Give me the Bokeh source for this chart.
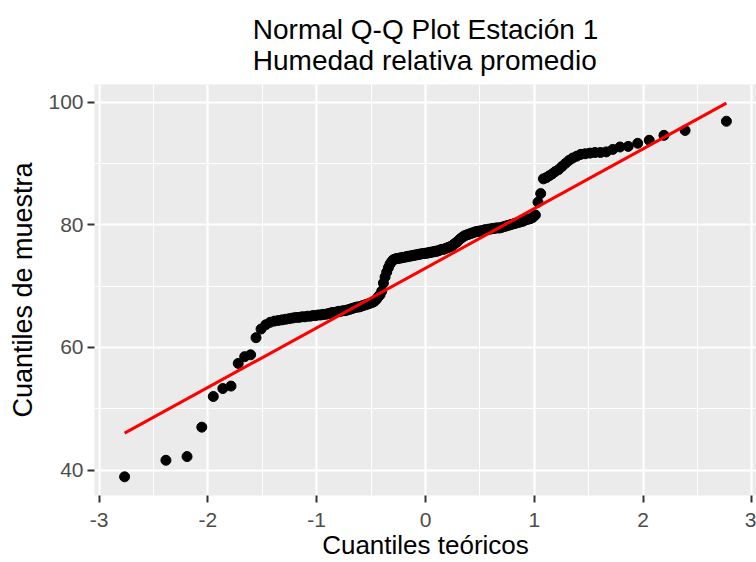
from statistics import NormalDist
import numpy as np
from bokeh.plotting import figure
from bokeh.models import Range1d, FixedTicker, Title, ColumnDataSource
from bokeh.embed import file_html
from bokeh.resources import INLINE

title_line1 = "Normal Q-Q Plot Estación 1"
title_line2 = "Humedad relativa promedio"
x_label = "Cuantiles teóricos"
y_label = "Cuantiles de muestra"
x_ticks = [-3, -2, -1, 0, 1, 2, 3]
x_tick_labels = ["-3", "-2", "-1", "0", "1", "2", "3"]
x_minor = [-2.5, -1.5, -0.5, 0.5, 1.5, 2.5]
y_ticks = [40, 60, 80, 100]
y_tick_labels = ["40", "60", "80", "100"]
y_minor = [50, 70, 90]

# sample values (humedad relativa promedio, %), sorted
humedad = [
    38.9, 41.6, 42.2, 47.0, 52.0, 53.3, 53.7, 57.4, 58.5, 58.8,
    61.6, 63.0, 63.7, 64.1, 64.3, 64.4, 64.5, 64.6, 64.7, 64.8,
    64.9, 64.9, 65.0, 65.0, 65.1, 65.1, 65.2, 65.2, 65.3, 65.3,
    65.4, 65.4, 65.5, 65.6, 65.7, 65.7, 65.8, 65.9, 65.9, 66.0,
    66.0, 66.1, 66.2, 66.3, 66.4, 66.5, 66.6, 66.6, 66.7, 66.8,
    66.9, 67.0, 67.1, 67.2, 67.3, 67.4, 67.6, 67.9, 68.3, 68.6,
    69.2, 70.5, 71.5, 72.3, 73.0, 73.6, 74.0, 74.3, 74.4, 74.5,
    74.5, 74.6, 74.6, 74.7, 74.7, 74.8, 74.8, 74.9, 74.9, 75.0,
    75.0, 75.1, 75.1, 75.2, 75.2, 75.3, 75.3, 75.3, 75.4, 75.4,
    75.5, 75.5, 75.6, 75.6, 75.7, 75.7, 75.8, 75.9, 76.0, 76.0,
    76.1, 76.2, 76.3, 76.4, 76.5, 76.7, 76.9, 77.1, 77.3, 77.6,
    77.8, 78.0, 78.2, 78.3, 78.4, 78.5, 78.6, 78.7, 78.8, 78.9,
    78.9, 79.0, 79.0, 79.1, 79.2, 79.2, 79.3, 79.3, 79.4, 79.4,
    79.5, 79.5, 79.5, 79.6, 79.7, 79.8, 79.9, 80.0, 80.1, 80.2,
    80.3, 80.4, 80.5, 80.6, 80.8, 80.9, 81.0, 81.2, 81.6, 83.7,
    85.1, 87.5, 87.7, 88.0, 88.3, 88.7, 89.0, 89.5, 90.0, 90.5,
    90.9, 91.2, 91.5, 91.6, 91.7, 91.8, 91.8, 91.9, 92.3, 92.7,
    92.8, 93.3, 93.8, 94.6, 95.4, 96.9,
]

# --- Q-Q statistics (as ggplot2 stat_qq / stat_qq_line) ---
nd = NormalDist()
muestra = sorted(humedad)
n = len(muestra)
teoricos = [nd.inv_cdf((i - 0.5) / n) for i in range(1, n + 1)]
y25, y75 = np.percentile(muestra, [25, 75])
x25, x75 = nd.inv_cdf(0.25), nd.inv_cdf(0.75)
slope = (y75 - y25) / (x75 - x25)
intercept = y25 - slope * x25
line_x = [min(teoricos), max(teoricos)]
line_y = [intercept + slope * x for x in line_x]


def expand(lo, hi, f=0.05):
    d = (hi - lo) * f
    return lo - d, hi + d


xlo, xhi = expand(min(teoricos), max(teoricos))
ylo, yhi = expand(min(min(muestra), min(line_y)), max(max(muestra), max(line_y)))

FONT = "Liberation Sans"
W, H = 756, 562
LEFT, TOP, BOTTOM = 94, 84, 67

p = figure(
    width=W, height=H, output_backend="svg", toolbar_location=None,
    x_range=Range1d(xlo, xhi), y_range=Range1d(ylo, yhi), title=None,
    min_border_left=LEFT, min_border_right=0, min_border_top=TOP,
    min_border_bottom=BOTTOM,
)
p.background_fill_color = "#EBEBEB"
p.border_fill_color = "white"
p.outline_line_color = None

xt = FixedTicker(ticks=x_ticks, minor_ticks=x_minor)
yt = FixedTicker(ticks=y_ticks, minor_ticks=y_minor)
p.xaxis.ticker = xt
p.yaxis.ticker = yt
p.xgrid.ticker = xt
p.ygrid.ticker = yt
for g in (p.xgrid, p.ygrid):
    g.grid_line_color = "white"
    g.grid_line_width = 2.2
    g.minor_grid_line_color = "white"
    g.minor_grid_line_width = 1.1

p.xaxis.major_label_overrides = dict(zip(x_ticks, x_tick_labels))
p.yaxis.major_label_overrides = dict(zip(y_ticks, y_tick_labels))
for ax in (p.xaxis, p.yaxis):
    ax.axis_line_color = None
    ax.minor_tick_line_color = None
    ax.major_tick_in = 0
    ax.major_tick_out = 7
    ax.major_tick_line_color = "#333333"
    ax.major_tick_line_width = 2
    ax.major_label_text_font = FONT
    ax.major_label_text_font_size = "21px"
    ax.major_label_text_color = "#4D4D4D"
    ax.axis_label_text_font = FONT
    ax.axis_label_text_font_style = "normal"
    ax.axis_label_text_color = "black"
p.xaxis.major_label_standoff = 10
p.yaxis.major_label_standoff = 4

p.xaxis.axis_label = x_label
p.xaxis.axis_label_text_font_size = "26px"
p.xaxis.axis_label_standoff = 0

p.yaxis.axis_label = y_label
p.yaxis.axis_label_text_font_size = "27px"
p.yaxis.axis_label_standoff = 7

src = ColumnDataSource(dict(teoricos=teoricos, muestra=muestra))
p.scatter("teoricos", "muestra", source=src, size=10, color="black")
p.line(line_x, line_y, line_color="red", line_width=3)

p.add_layout(Title(text=title_line1 + "\n" + title_line2, align="center",
                   text_font=FONT, text_font_size="28px",
                   text_font_style="normal", text_line_height=1.0,
                   text_color="black", standoff=17), "above")

open("out.html", "w").write(file_html(p, INLINE))
